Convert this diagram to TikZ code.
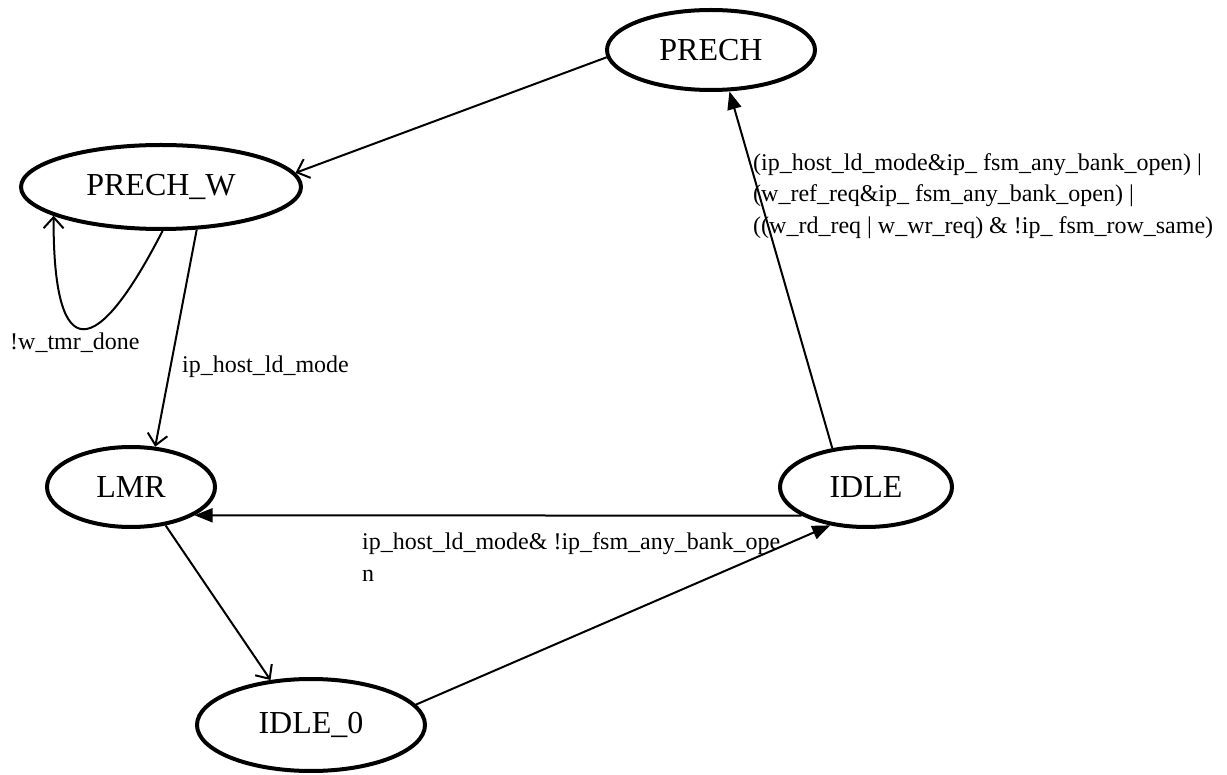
\documentclass[tikz,border=0pt]{standalone}
\usepackage{fontspec}
\setmainfont{Liberation Serif}
\usetikzlibrary{arrows.meta,shapes.geometric}
\tikzset{
  fsmstate/.style={ellipse, draw, line width=4pt, inner sep=0pt,
    font=\fontsize{32}{38}\selectfont},
  trans/.style={line width=2pt},
  barbtip/.style={trans, -{Straight Barb[length=11pt,width=20pt,line width=2pt]}},
  filledtip/.style={trans, -{Triangle[length=18pt,width=14pt]}},
  cond/.style={inner sep=0pt, font=\fontsize{24}{31.5}\selectfont, align=left},
}
\begin{document}
\begin{tikzpicture}[x=1pt,y=-1pt]
\useasboundingbox (0,0) rectangle (1227,775);

% states
\node[fsmstate, minimum width=208pt, minimum height=80pt] (prech)  at (711,50)  {PRECH};
\node[fsmstate, minimum width=280pt, minimum height=84pt] (prechw) at (161,187) {PRECH\_W};
\node[fsmstate, minimum width=168pt, minimum height=80pt] (lmr)    at (131,487) {LMR};
\node[fsmstate, minimum width=172pt, minimum height=80pt] (idle)   at (866,487) {IDLE};
\node[fsmstate, minimum width=228pt, minimum height=92pt] (idle0)  at (311,725) {IDLE\_0};

% transitions
\draw[barbtip] (prech.184) -- (prechw.6);
\draw[barbtip] (prechw.-50) -- (lmr.59);
\draw[barbtip] (prechw.-88) .. controls (88,376) and (53,351) .. (prechw.-165);
\draw[barbtip] (lmr.-48) -- (idle0.132);
\draw[filledtip] (idle0.11) -- (idle.-133);
\draw[filledtip] (idle.204) -- (lmr.-24);
\draw[filledtip] (idle.131) -- (prech.-66);

% transition conditions
\node[cond, anchor=base west] (cloop) at (10,350) {!w\_tmr\_done};
\node[cond, anchor=base west] (cld) at (182,373) {ip\_host\_ld\_mode};
\node[cond, anchor=west] (cprech) at (753,196)
  {(ip\_host\_ld\_mode\&ip\_ fsm\_any\_bank\_open) |\\
   (w\_ref\_req\&ip\_ fsm\_any\_bank\_open) |\\
   ((w\_rd\_req | w\_wr\_req) \& !ip\_ fsm\_row\_same)};
\node[cond, anchor=west] (clmr) at (362,557)
  {ip\_host\_ld\_mode\& !ip\_fsm\_any\_bank\_ope\\n};
\end{tikzpicture}
\end{document}
